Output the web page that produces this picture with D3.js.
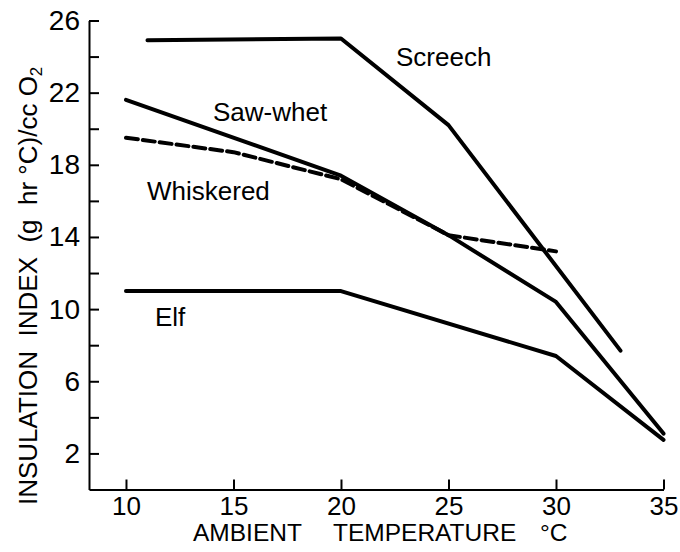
<!DOCTYPE html>
<html>
<head>
<meta charset="utf-8">
<script src="https://cdn.jsdelivr.net/npm/d3@7"></script>
<style>
  html, body { margin: 0; padding: 0; background: #fff; }
  svg { display: block; }
  text { font-family: "Liberation Sans", Arial, Helvetica, sans-serif; fill: #000; }
</style>
</head>
<body>
<svg id="chart" width="680" height="552"></svg>
<script>
// Insulation index of four owl species against ambient temperature
const temperatureTicks = [10, 15, 20, 25, 30, 35];
const insulationTicks = [2, 4, 6, 8, 10, 12, 14, 16, 18, 20, 22, 24, 26];
const insulationLabels = [2, 6, 10, 14, 18, 22, 26];

const screechTemp = [11, 20, 25, 33];
const screechIndex = [24.9, 25.0, 20.2, 7.7];

const sawWhetTemp = [10, 20, 25, 30, 35];
const sawWhetIndex = [21.6, 17.4, 14.1, 10.4, 3.1];

const whiskeredTemp = [10, 15, 20, 25, 30];
const whiskeredIndex = [19.5, 18.7, 17.2, 14.1, 13.2];

const elfTemp = [10, 20, 30, 35];
const elfIndex = [11.0, 11.0, 7.4, 2.75];

const speciesNames = ["Screech", "Saw-whet", "Whiskered", "Elf"];

const svg = d3.select("#chart");

const x = d3.scaleLinear().domain([8.28, 35]).range([89, 663.5]);
const y = d3.scaleLinear().domain([0, 26]).range([489.5, 20.5]);

// Axes: ticks point inward, labels outside
const xAxis = d3.axisBottom(x)
  .tickValues(temperatureTicks)
  .tickSizeInner(-10)
  .tickSizeOuter(0)
  .tickPadding(7)
  .tickFormat(d3.format("d"));

const yAxis = d3.axisLeft(y)
  .tickValues(insulationTicks)
  .tickSizeInner(-10)
  .tickSizeOuter(0)
  .tickPadding(9)
  .tickFormat(d => insulationLabels.includes(d) ? d : "");

const gx = svg.append("g").attr("transform", `translate(0,${y(0)})`).call(xAxis);
const gy = svg.append("g").attr("transform", `translate(${x(8.28)},0)`).call(yAxis);

[gx, gy].forEach(g => {
  g.selectAll("path.domain").attr("stroke", "#000").attr("stroke-width", 2);
  g.selectAll(".tick line").attr("stroke", "#000").attr("stroke-width", 2);
  g.selectAll(".tick text")
    .attr("font-family", "\"Liberation Sans\", Arial, sans-serif")
    .attr("fill", "#000");
});
gx.selectAll(".tick text").attr("font-size", 26);
gy.selectAll(".tick text").attr("font-size", 28);

// X axis title
const xTitle = svg.append("text").attr("y", 541).attr("font-size", 24.5);
xTitle.append("tspan").attr("x", 193).text("AMBIENT");
xTitle.append("tspan").attr("x", 333).text("TEMPERATURE");
xTitle.append("tspan").attr("x", 540).text("°C");

// Y axis title
const yTitle = svg.append("text")
  .attr("transform", "translate(37,505) rotate(-90)")
  .attr("font-size", 26)
  .attr("xml:space", "preserve");
yTitle.append("tspan").text("INSULATION  INDEX  (g  hr °C)/cc O");
yTitle.append("tspan").attr("font-size", 17).attr("dy", 5).text("2");

// Curves
const line = d3.line().x(d => x(d[0])).y(d => y(d[1]));
const series = [
  { temp: screechTemp, idx: screechIndex, dash: null },
  { temp: sawWhetTemp, idx: sawWhetIndex, dash: null },
  { temp: whiskeredTemp, idx: whiskeredIndex, dash: "12,5" },
  { temp: elfTemp, idx: elfIndex, dash: null }
];
series.forEach(s => {
  svg.append("path")
    .datum(s.temp.map((t, i) => [t, s.idx[i]]))
    .attr("d", line)
    .attr("fill", "none")
    .attr("stroke", "#000")
    .attr("stroke-width", 4)
    .attr("stroke-linejoin", "round")
    .attr("stroke-linecap", "round")
    .attr("stroke-dasharray", s.dash);
});

// Species labels
const labelPos = [[396, 66], [213, 121], [147, 200], [155, 326]];
speciesNames.forEach((name, i) => {
  svg.append("text")
    .attr("x", labelPos[i][0])
    .attr("y", labelPos[i][1])
    .attr("font-size", 26)
    .text(name);
});
</script>
</body>
</html>
